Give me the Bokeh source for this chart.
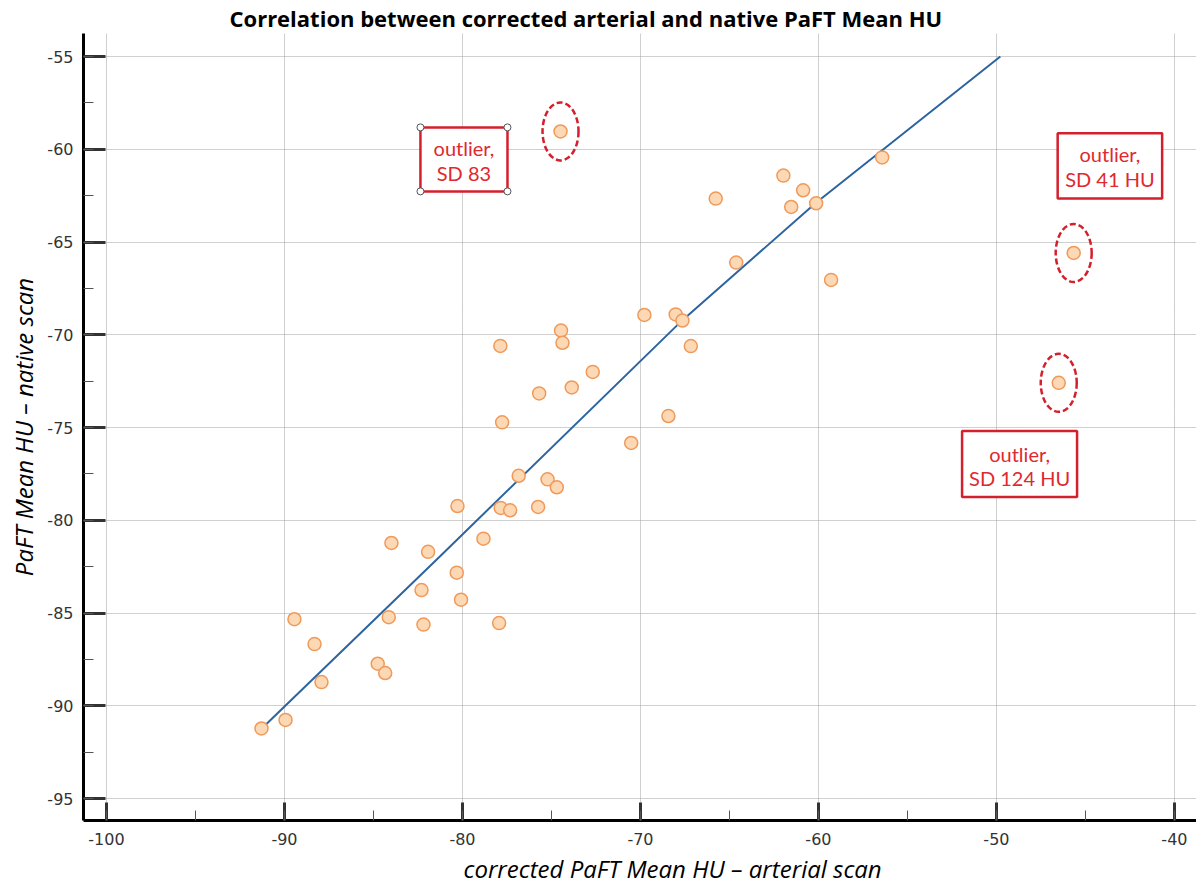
from bokeh.plotting import figure
from bokeh.models import Range1d, SingleIntervalTicker, Title
from bokeh.embed import file_html
from bokeh.resources import INLINE
from bokeh.core.properties import value

# --- data ---
arterial = [-91.29, -89.94, -89.44, -88.31, -87.92, -84.76, -84.34, -84.14, -83.99,
            -82.30, -82.19, -81.93, -80.32, -80.08, -80.28, -78.82, -77.94, -77.87,
            -77.77, -77.85, -77.32, -76.84, -75.75, -75.69, -75.22, -74.70, -74.46,
            -74.38, -73.86, -72.68, -70.52, -69.78, -68.43, -68.02, -67.64, -67.17,
            -65.77, -64.62, -61.97, -61.53, -60.86, -60.13, -59.29, -56.42]
native = [-91.22, -90.76, -85.33, -86.67, -88.72, -87.73, -88.23, -85.22, -81.22,
          -83.76, -85.62, -81.70, -82.82, -84.28, -79.23, -80.99, -85.54, -70.60,
          -74.72, -79.33, -79.46, -77.60, -79.28, -73.16, -77.79, -78.22, -69.77,
          -70.43, -72.84, -72.00, -75.83, -68.93, -74.38, -68.90, -69.23, -70.61,
          -62.66, -66.11, -61.42, -63.11, -62.21, -62.91, -67.04, -60.44]
outlier_arterial = [-74.49, -45.66, -46.50]
outlier_native = [-59.04, -65.59, -72.59]
outlier_labels = ["outlier,\nSD 83", "outlier,\nSD 41 HU", "outlier,\nSD 124 HU"]
fit_x = [-91.29, -81.24, -67.64, -60.17, -49.78]
fit_y = [-91.23, -81.92, -69.21, -62.91, -55.0]
x_ticks = [-100, -90, -80, -70, -60, -50, -40]
y_ticks = [-55, -60, -65, -70, -75, -80, -85, -90, -95]

# --- annotation positions (data units) ---
box_left = [-82.36, -46.56, -51.93]
box_right = [-77.47, -40.69, -45.47]
box_top = [-58.82, -59.13, -75.19]
box_bottom = [-62.27, -62.66, -78.74]
text_y1 = [-59.95, -60.28, -76.43]
text_y2 = [-61.30, -61.62, -77.72]

p = figure(width=1196, height=888, output_backend="svg", toolbar_location=None,
           x_range=Range1d(-101.29, -38.76), y_range=Range1d(-96.18, -53.76),
           min_border_left=83, min_border_right=0, min_border_top=32, min_border_bottom=68,
           background_fill_color="white", border_fill_color="white")
p.outline_line_color = None

p.title.text = "Correlation between corrected arterial and native PaFT Mean HU"
p.title.text_font = "Open Sans"
p.title.text_font_style = "bold"
p.title.text_font_size = "22px"
p.title.text_color = "black"
p.title.align = "left"
p.title.offset = 146
p.title.standoff = 1

for ax, interval, ticks in ((p.xaxis[0], 10, x_ticks), (p.yaxis[0], 5, y_ticks)):
    ax.ticker = SingleIntervalTicker(interval=interval, num_minor_ticks=2)
    ax.major_label_overrides = {t: str(t) for t in ticks}
    ax.axis_line_color = "black"
    ax.axis_line_width = 3
    ax.major_tick_out = 0
    ax.major_tick_line_width = 3
    ax.major_tick_line_color = "#333333"
    ax.minor_tick_out = 0
    ax.minor_tick_in = 10
    ax.minor_tick_line_width = 1
    ax.minor_tick_line_color = "#555555"
    ax.major_label_text_font = "DejaVu Sans"
    ax.major_label_text_font_size = "16px"
    ax.major_label_text_color = "#333333"

p.xaxis.major_tick_in = 18
p.yaxis.major_tick_in = 22
p.xaxis.major_label_standoff = 12
p.yaxis.major_label_standoff = 10

p.yaxis.axis_label = "PaFT Mean HU \u2013 native scan"
p.yaxis.axis_label_text_font = "Open Sans"
p.yaxis.axis_label_text_font_style = "italic"
p.yaxis.axis_label_text_font_size = "24px"
p.yaxis.axis_label_text_color = "black"
p.yaxis.axis_label_standoff = 4

xlabel = Title(text="corrected PaFT Mean HU \u2013 arterial scan", align="left", offset=380,
               text_font="Open Sans", text_font_style="italic", text_font_size="24px",
               text_color="black", standoff=5)
p.add_layout(xlabel, "below")

for g in (p.xgrid[0], p.ygrid[0]):
    g.grid_line_color = "#a0a0a0"
    g.grid_line_dash = "1 1"
    g.grid_line_width = 1

# regression line
p.line(fit_x, fit_y, line_color="#2d64a0", line_width=2)

# points
p.scatter(arterial, native, size=13, fill_color="#fdd8b4", line_color="#ef9a5a",
          line_width=1.5, marker="circle")
p.scatter(outlier_arterial, outlier_native, size=13, fill_color="#fdd8b4",
          line_color="#ef9a5a", line_width=1.5, marker="circle")

# dashed ellipses around outliers
p.ellipse(x=outlier_arterial, y=outlier_native, width=36, height=58,
          width_units="screen", height_units="screen",
          fill_color=None, line_color="#d4202c", line_width=2.5, line_dash="6 3")

# boxes
p.quad(left=box_left, right=box_right, top=box_top, bottom=box_bottom,
       fill_color="white", line_color="#d4202c", line_width=2.5)

# selection handles on first box
p.scatter([box_left[0], box_right[0], box_left[0], box_right[0]],
          [box_top[0], box_top[0], box_bottom[0], box_bottom[0]],
          size=7, fill_color="white", line_color="#555555", line_width=1, marker="circle")

cx = [(a + b) / 2 for a, b in zip(box_left, box_right)]
l1 = [s.split("\n")[0] for s in outlier_labels]
l2 = [s.split("\n")[1] for s in outlier_labels]
p.text(x=cx, y=text_y1, text=l1, text_align="center", text_baseline="middle",
       text_font=value("Lato"), text_font_size="20px", text_color="#e0282e")
p.text(x=cx, y=text_y2, text=l2, text_align="center", text_baseline="middle",
       text_font=value("Lato"), text_font_size="20px", text_color="#e0282e")

open("out.html", "w").write(file_html(p, INLINE))
